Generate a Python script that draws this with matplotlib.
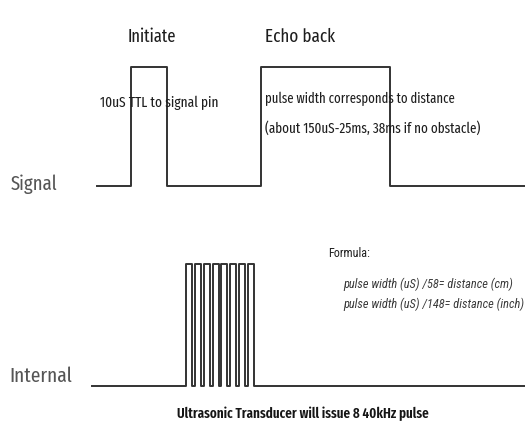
import matplotlib
matplotlib.use("Agg")
import matplotlib.pyplot as plt

# waveform data (time axis in arbitrary units, level 0 = low, 1 = high)
signal_t = [97, 131, 167, 261, 390, 525]
signal_level = [0, 1, 0, 1, 0, 0]
burst_rises = [186, 195, 204, 213, 221, 230, 239, 248]
burst_width = 6
internal_start, internal_end = 92, 525

track_labels = ["Signal", "Internal"]
formula_lines = ["pulse width (uS) /58= distance (cm)",
                 "pulse width (uS) /148= distance (inch)"]

MAIN = ["Fira Sans Extra Condensed", "PT Sans Narrow", "DejaVu Sans"]
ARIALN = ["Roboto Condensed", "Archivo Narrow", "DejaVu Sans"]
plt.rcParams["font.family"] = MAIN

TXT = "#1e1e1e"
LINE = "#333333"

fig = plt.figure(figsize=(5.25, 4.24), dpi=100)
ax = fig.add_axes([0, 0, 1, 1])
ax.set_xlim(0, 525)
ax.set_ylim(424, 0)
ax.axis("off")
renderer = fig.canvas.get_renderer()

# vertical placement of the two traces (pixel rows of low / high level)
sig_low, sig_high = 186, 67
int_low, int_high = 386, 264


def to_y(level, low, high):
    return low + (high - low) * level


def fit_text(x0, x1, y, s, **kw):
    """Place text with its baseline at y and size it to span x0..x1 pixels."""
    t = ax.text(x0, y, s, ha="left", va="baseline", fontsize=12, **kw)
    w = t.get_window_extent(renderer).width
    t.set_fontsize(12 * (x1 - x0) / w)
    return t


ax.step(signal_t, [to_y(v, sig_low, sig_high) for v in signal_level],
        where="post", color=LINE, lw=1.4)

# internal trace: flat, 8-cycle burst, flat
xs, ys = [internal_start], [0]
for r in burst_rises:
    xs += [r, r, r + burst_width, r + burst_width]
    ys += [0, 1, 1, 0]
xs.append(internal_end)
ys.append(0)
ax.plot(xs, [to_y(v, int_low, int_high) for v in ys], color=LINE, lw=1.4)

fit_text(128, 177, 42, "Initiate", color=TXT)
fit_text(265, 335, 42, "Echo back", color=TXT)
fit_text(100, 218, 107, "10uS TTL to signal pin", color=TXT)
fit_text(265, 455, 103, "pulse width corresponds to distance", color=TXT)
fit_text(265, 480, 133, "(about 150uS-25ms, 38ms if no obstacle)", color=TXT)

fit_text(11, 58, 190, track_labels[0], color="#555555")
fit_text(9, 72, 382, track_labels[1], color="#555555")

fit_text(328, 370, 257, "Formula:", family=ARIALN, color=TXT)
fit_text(343, 512, 288, formula_lines[0], family=ARIALN, style="italic", color="#3a3a3a")
fit_text(343, 524, 308, formula_lines[1], family=ARIALN, style="italic", color="#3a3a3a")

fit_text(177, 428, 418, "Ultrasonic Transducer will issue 8 40kHz pulse",
         weight="semibold", color="#151515")

fig.savefig("out.png", dpi=100)
